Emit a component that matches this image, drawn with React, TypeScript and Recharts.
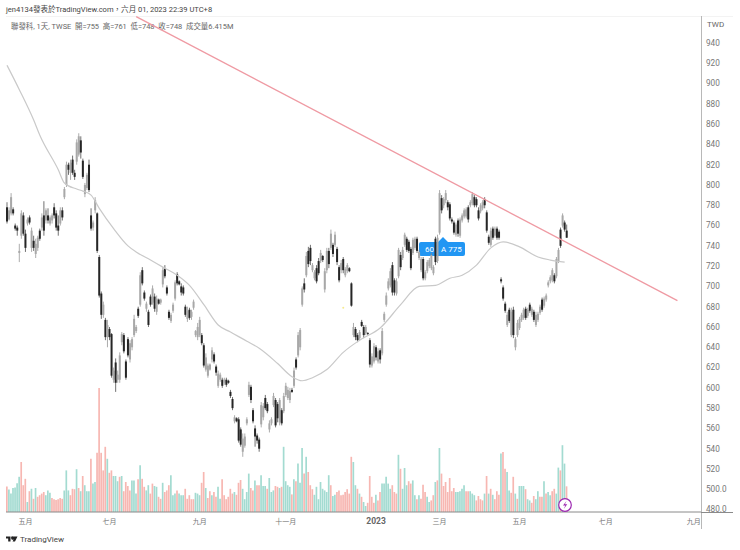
import { Bar, Cell, ComposedChart, Line, ReferenceDot, XAxis, YAxis } from "recharts";

const highs = [
  783,778,792,778,762,760,742,775,773,756,768,770,758,750,747,750,757,772,784,777,
  777,770,772,782,775,770,778,778,798,823,822,825,829,815,845,851,848,826,802,812,
  825,777,765,788,773,731,695,685,669,667,660,654,620,629,617,635,655,654,628,650,
  647,650,672,662,680,714,719,696,685,677,692,701,693,691,688,688,719,721,701,677,
  674,684,706,714,706,703,701,682,680,679,677,687,657,664,670,654,644,634,624,624,
  640,635,623,617,615,610,610,610,608,598,591,573,571,571,561,555,555,571,606,603,
  580,563,555,551,586,585,593,586,568,571,595,590,586,590,580,595,605,601,600,600,
  620,630,655,659,700,708,734,739,741,723,716,721,728,736,731,718,738,738,756,743,
  754,739,721,726,729,719,723,719,704,664,660,654,657,667,662,662,655,649,634,644,
  642,639,639,659,675,694,708,718,724,708,708,738,734,739,753,749,746,739,748,749,
  749,736,729,729,716,726,728,733,721,749,751,795,790,788,795,785,783,768,765,763,
  767,768,772,777,778,780,785,793,790,788,778,782,785,788,775,751,758,759,759,759,
  756,709,701,685,675,679,679,680,650,667,670,674,679,680,679,684,680,677,675,675,
  682,689,690,693,706,711,718,713,729,738,758,772,765,761,
];
const lows = [
  762,765,770,770,755,750,724,747,750,734,760,761,734,735,728,735,745,755,750,762,
  762,760,762,767,755,750,760,765,786,798,810,805,810,805,820,828,826,806,788,795,
  793,755,755,772,733,689,668,669,647,640,647,610,605,596,605,605,642,634,608,630,
  625,637,650,654,669,680,701,686,675,660,680,682,675,672,682,682,699,708,691,667,
  664,674,686,701,701,691,691,670,665,667,667,677,650,647,650,642,620,616,610,617,
  625,624,612,600,606,600,603,601,604,590,578,565,566,546,542,532,541,563,591,585,
  565,542,545,537,561,568,578,575,556,563,581,561,566,563,563,575,591,588,585,595,
  600,618,630,637,680,694,709,719,721,714,706,703,711,723,724,694,713,718,736,729,
  739,721,704,713,713,709,713,714,680,650,647,645,647,660,649,652,652,620,620,624,
  627,624,624,632,665,680,696,699,691,691,691,708,716,726,739,734,733,716,731,736,
  733,726,714,706,706,713,718,716,711,721,723,751,772,777,782,775,765,762,751,749,
  749,748,763,767,767,763,778,780,778,778,765,772,775,777,753,741,739,746,748,746,
  746,703,686,674,660,664,650,649,637,650,657,665,667,667,669,674,670,665,660,665,
  672,675,679,685,699,703,704,703,708,723,738,758,754,748,
];
const opens = [
  778,766,772,776,760,758,733,750,770,752,762,768,738,745,732,738,755,758,770,765,
  770,762,765,778,772,760,762,775,788,800,820,812,825,812,823,830,844,824,791,797,
  820,770,758,775,772,729,693,672,667,650,658,653,608,625,608,608,645,652,626,648,
  628,640,652,656,678,682,716,694,678,675,690,684,690,675,687,684,702,718,699,675,
  666,676,688,712,705,700,699,680,668,677,670,679,652,650,652,652,642,618,612,618,
  628,633,621,602,608,608,605,608,607,596,589,567,570,569,559,537,543,565,593,601,
  578,560,553,549,564,571,590,584,559,565,583,588,584,566,578,577,593,590,588,598,
  602,628,632,640,682,703,711,735,738,716,708,718,725,725,730,697,716,735,738,741,
  741,737,719,716,727,711,715,718,703,652,658,652,649,665,660,654,654,647,622,626,
  640,626,637,634,667,682,698,701,721,706,693,710,731,728,741,747,744,737,733,738,
  747,728,716,727,708,715,720,718,713,747,725,753,787,780,785,783,781,766,763,751,
  765,750,765,769,769,778,780,782,788,786,775,774,777,786,773,749,741,757,750,757,
  754,707,699,683,662,677,652,677,640,652,659,667,669,678,671,682,672,675,662,667,
  674,687,681,687,701,705,706,711,710,725,756,760,763,755,
];
const closes = [
  764,775,788,772,757,755,735,772,752,738,766,763,755,738,742,748,747,768,755,775,
  765,768,770,770,758,755,775,768,796,820,815,822,812,808,842,848,832,808,800,810,
  795,757,763,785,735,691,672,682,650,662,650,612,617,605,613,632,653,636,610,632,
  644,648,668,660,671,711,703,688,683,662,682,698,678,688,683,687,716,710,693,669,
  672,682,704,703,702,694,693,672,676,669,675,685,656,660,667,644,622,630,622,623,
  637,626,615,614,613,602,608,603,605,592,580,571,567,548,544,550,552,569,603,588,
  567,552,548,540,583,582,580,577,565,569,592,563,570,588,565,592,602,598,597,596,
  617,620,652,657,698,697,730,722,725,721,714,705,713,733,726,715,735,722,752,732,
  751,724,706,723,716,717,721,715,681,660,650,647,655,661,652,660,653,623,631,641,
  630,636,628,656,673,691,705,715,694,694,705,736,719,736,751,736,735,718,746,747,
  735,734,727,708,714,724,726,731,719,724,748,792,775,786,792,778,767,764,753,761,
  752,766,770,775,776,766,783,791,780,780,767,780,783,780,755,743,755,748,757,748,
  748,705,688,676,672,666,675,652,648,664,668,672,677,669,677,676,678,667,672,673,
  680,677,688,691,704,709,716,705,727,736,740,770,756,748,
];

// millions of shares
const volumes = [
  6.4,5.6,4.6,6.0,6.1,7.2,8.8,12.5,6.7,8.3,
  2.5,5.2,5.8,3.3,6.0,3.8,4.2,4.6,5.0,4.2,
  5.4,4.8,3.5,3.2,3.0,3.2,3.5,3.3,5.4,10.4,
  5.4,4.2,5.8,5.7,10.7,6.0,5.2,9.0,6.7,5.2,
  5.2,13.3,7.1,7.5,14.8,31.0,14.8,10.4,16.3,13.3,
  9.8,10.4,9.0,9.0,7.7,8.8,9.0,5.2,7.5,6.5,
  5.4,7.9,7.9,4.6,8.2,11.7,8.3,6.3,5.4,6.7,
  4.6,7.1,6.5,6.3,3.8,3.3,7.3,5.0,5.4,6.7,
  9.2,4.2,4.6,5.4,4.6,4.2,4.2,5.8,3.3,4.2,
  3.2,3.2,4.8,4.6,4.2,7.3,10.0,6.0,3.5,5.2,
  4.2,5.0,3.8,6.3,3.3,8.2,4.2,3.2,3.8,5.8,
  4.6,5.0,4.3,7.3,8.0,5.8,3.2,5.0,9.6,6.0,
  5.4,7.9,6.7,6.7,9.2,6.5,6.5,5.8,8.5,5.0,
  5.4,6.5,6.3,6.0,6.3,16.3,7.7,6.7,6.3,
  4.4,8.2,7.7,12.1,7.3,16.0,9.6,13.8,10.0,6.7,
  5.7,4.3,6.3,3.2,7.5,5.8,5.4,5.0,9.2,6.7,
  4.0,4.3,5.0,5.4,4.2,4.3,5.0,5.7,4.6,13.8,
  12.5,6.7,5.8,4.6,3.8,2.5,1.5,2.3,9.0,3.8,
  2.3,4.3,2.9,5.0,7.1,7.1,8.8,7.1,5.8,6.7,
  5.0,4.6,14.3,10.8,5.8,11.0,6.7,7.7,7.1,7.9,
  4.2,3.2,4.2,3.3,6.8,5.0,3.8,2.5,2.9,4.2,
  7.5,7.9,16.0,9.6,6.5,7.5,5.0,8.5,5.2,6.0,
  5.0,5.0,5.2,5.8,6.7,5.2,5.2,5.2,4.6,4.2,
  2.9,4.0,3.2,2.9,4.6,9.0,4.6,5.8,4.3,3.2,
  5.2,4.3,14.6,15.0,10.8,10.0,5.4,4.8,8.8,4.6,
  3.3,6.5,6.5,6.5,5.7,3.2,2.9,2.3,4.0,3.2,
  5.2,3.8,3.8,7.7,4.6,5.0,4.2,5.2,5.8,4.6,
  11.1,10.4,16.7,12.1,6.415,
];
// g = teal volume bar, r = red volume bar
const volumeDir = [
  "rggggggrrr","grgrgrrrrg","ggrrrrrrgg","grrrgrgrgg","grggrrrrrg","rrgggrgrrr","rgggrgrrgg",
  "rrggrrgrrr","gggrgggrrr","rrgggrrgrr","grrggrrrrr","rgrrrggggr","rgrrgggrgg","grrgrgggg",
  "rgrgggrgrr","rggggggggr","ggrrrrrrrr","ggrgrggrrr","rgrrgggggr","rrgrgggrrg","grgrrrggrr",
  "grgrrrrrrr","gggggrrggg","rrrrgrgrgr","rrgrrggrrg","rgggrggrrg","grrgrggrrg","grggr",
].join("");

const maIdx = [0,6,13,16,25,28,34,37,41,45,52,59,63,70,76,83,89,96,103,109,117,123,132,139,144,149,156,164,172,182,192,201,209,216,222,229,236,242,250,259,265,272];
const maVals = [918,894,864,849,815,802,796,794,790,777,757,740,734,726,719,711,701,682,662,655,646,639,624,611,607,610,618,635,647,659,682,700,701,708,711,721,738,744,739,729,726,724];

const trendIdx = [63, 327];
const trendVals = [966, 686];

const monthTicks = [9, 50, 94, 136, 180, 211, 250, 292, 335];
const monthLabels = ["五月", "七月", "九月", "十一月", "2023", "三月", "五月", "七月", "九月"];
const priceTicks = [480,500,520,540,560,580,600,620,640,660,680,700,720,740,760,780,800,820,840,860,880,900,920,940];

const SLOTS = 339;

const rows = Array.from({ length: SLOTS }, (_, i) => {
  const has = i < highs.length;
  const ma = maIdx.indexOf(i);
  const tr = trendIdx.indexOf(i);
  return {
    i,
    range: has ? [lows[i], highs[i]] : null,
    high: has ? highs[i] : null,
    low: has ? lows[i] : null,
    open: has ? opens[i] : null,
    close: has ? closes[i] : null,
    volume: has ? volumes[i] : null,
    ma: ma >= 0 ? maVals[ma] : null,
    trend: tr >= 0 ? trendVals[tr] : null,
  };
});

function Candle(props: any) {
  const { x, y, width, height, payload } = props;
  if (!payload || payload.high == null) return null;
  const { high, low, open, close } = payload;
  const h = Math.abs(height);
  const top = height < 0 ? y + height : y;
  const at = (v: number) => top + ((high - v) / (high - low)) * h;
  const bodyTop = at(Math.max(open, close));
  const bodyH = Math.max(at(Math.min(open, close)) - bodyTop, 1);
  const up = close >= open;
  const cx = x + width / 2;
  return (
    <g>
      <line x1={cx} x2={cx} y1={top} y2={top + h} stroke={up ? "#888" : "#333"} strokeWidth={0.7} />
      <rect x={cx - 1} y={bodyTop} width={2} height={bodyH} fill={up ? "#a8a8a8" : "#262626"} />
    </g>
  );
}

function MonthTick(props: any) {
  const { x, y, payload } = props;
  const label = monthLabels[monthTicks.indexOf(payload.value)];
  const bold = label === "2023";
  return (
    <text
      x={x}
      y={y + 4}
      textAnchor="middle"
      fontSize={bold ? 8.5 : 7}
      fontWeight={bold ? 700 : 400}
      fill={bold ? "#666" : "#777"}
    >
      {label}
    </text>
  );
}

export default function App() {
  const font = 'Roboto, "Noto Sans CJK TC", sans-serif';
  return (
    <div style={{ position: "absolute", left: 0, top: 0, width: 740, height: 550, background: "#fff", fontFamily: font, overflow: "hidden" }}>
      <div style={{ position: "absolute", left: 6, top: 4.5, fontSize: 7.55, lineHeight: "9px", color: "#444", whiteSpace: "nowrap" }}>
        jen4134發表於TradingView.com，六月 01, 2023 22:39 UTC+8
      </div>
      <div style={{ position: "absolute", left: 11, top: 21.5, fontSize: 7.45, lineHeight: "9px", color: "#666", whiteSpace: "pre" }}>
        聯發科, 1天, TWSE  開=755  高=761  低=748  收=748  成交量6.415M
      </div>
      <div style={{ position: "absolute", left: 6, top: 16, width: 727, height: 1, background: "#f3f3f3" }} />
      <div style={{ position: "absolute", left: 707, top: 19.5, fontSize: 8, lineHeight: "9px", color: "#666" }}>TWD</div>

      {/* order tag sits behind the candles */}
      <svg style={{ position: "absolute", left: 0, top: 0 }} width={740} height={550}>
        <path d="M421 242 H438 L443 237 L448 242 H463 a2 2 0 0 1 2 2 V254 a2 2 0 0 1 -2 2 H421 a2 2 0 0 1 -2 -2 V244 a2 2 0 0 1 2 -2 Z" fill="#2196f3" />
        <text x={425} y={252} fontSize={8} fill="#fff">60</text>
        <text x={441} y={252} fontSize={8} fill="#fff">A 775</text>
      </svg>

      <div style={{ position: "absolute", left: 0, top: 0 }}>
        <ComposedChart
          width={740}
          height={550}
          data={rows}
          margin={{ left: 6, right: 7, top: 16, bottom: 20 }}
          barCategoryGap={0}
          barGap={0}
        >
          <XAxis xAxisId="v" dataKey="i" hide type="category" />
          <XAxis
            xAxisId="c"
            dataKey="i"
            type="category"
            ticks={monthTicks}
            interval={0}
            height={18}
            tick={<MonthTick />}
            tickLine={false}
            axisLine={{ stroke: "#8a8a8a" }}
          />
          <YAxis yAxisId="v" hide domain={[0, 124]} />
          <YAxis
            yAxisId="p"
            orientation="right"
            width={32}
            domain={[477.6, 966.6]}
            ticks={priceTicks}
            interval={0}
            axisLine={false}
            tickLine={false}
            tickMargin={-1}
            tick={{ fontSize: 8.2, fill: "#777" }}
            tickFormatter={(v: number) => (v <= 500 ? v.toFixed(1) : String(v))}
          />
          <Bar xAxisId="v" yAxisId="v" dataKey="volume" barSize={1.7} isAnimationActive={false}>
            {rows.map((r) => (
              <Cell key={r.i} fill={volumeDir[r.i] === "g" ? "#a3dbd1" : "#f7b7b2"} />
            ))}
          </Bar>
          <Bar xAxisId="c" yAxisId="p" dataKey="range" shape={<Candle />} isAnimationActive={false} />
          <Line
            xAxisId="c"
            yAxisId="p"
            dataKey="ma"
            type="monotone"
            connectNulls
            dot={false}
            stroke="#c9c9c9"
            strokeWidth={1.2}
            isAnimationActive={false}
          />
          <Line
            xAxisId="c"
            yAxisId="p"
            dataKey="trend"
            type="linear"
            connectNulls
            dot={false}
            stroke="#ef9aa3"
            strokeWidth={1.3}
            isAnimationActive={false}
          />
          <ReferenceDot xAxisId="c" yAxisId="p" x={164} y={679} r={1} fill="#f6ea8e" stroke="none" />
        </ComposedChart>
      </div>

      <div style={{ position: "absolute", left: 700.5, top: 16, width: 1.5, height: 513, background: "#b8b8b8" }} />
      <div style={{ position: "absolute", left: 701, top: 512, width: 32, height: 1, background: "#8a8a8a" }} />

      <svg style={{ position: "absolute", left: 0, top: 0, pointerEvents: "none" }} width={740} height={550}>
        <circle cx={565} cy={505} r={6.3} fill="#fff" stroke="#9c27b0" strokeWidth={1.2} />
        <path d="M566.5 501 L563 505.5 H565.3 L563.8 509 L567.2 504.3 H564.9 Z" fill="#9c27b0" />
        <path d="M6 536.5 H10.5 V541.5 H8.2 V538.5 H6 Z M13 536.5 H17.5 L15 541.5 H12.6 L13.8 538.8 A1.2 1.2 0 0 1 11.2 538 A1.2 1.2 0 0 1 13 536.5 Z" fill="#222" />
      </svg>
      <div style={{ position: "absolute", left: 20, top: 534.5, fontSize: 8, lineHeight: "9px", color: "#444" }}>TradingView</div>
    </div>
  );
}
